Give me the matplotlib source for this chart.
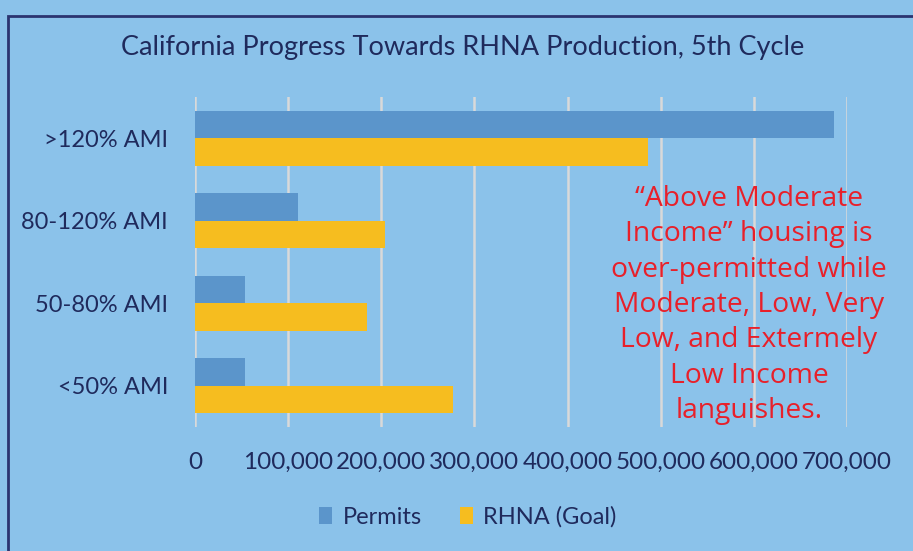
import matplotlib.pyplot as plt
from matplotlib.patches import Rectangle
from matplotlib.ticker import FuncFormatter

categories = ['<50% AMI', '50-80% AMI', '80-120% AMI', '>120% AMI']
permits = [54000, 54000, 111000, 686000]
rhna_goal = [277000, 185000, 204000, 486000]

bg = '#8BC2EA'
navy = '#1F2A5C'

plt.rcParams['font.family'] = ['Lato', 'DejaVu Sans']

fig = plt.figure(figsize=(9.13, 5.51), dpi=100)
fig.patch.set_facecolor(bg)
ax = fig.add_axes([195 / 913, 1 - 427 / 551, (847 - 195) / 913, (427 - 97) / 551])
ax.set_facecolor(bg)

# chart border, cropped at the right and bottom
fig.patches.append(Rectangle((8 / 913, -0.1), 1.2, 1 - 16 / 551 + 0.1, transform=fig.transFigure,
                             fill=False, edgecolor='#2B3470', linewidth=2))

y = list(range(len(categories)))
h = 0.334
ax.barh([i + h / 2 for i in y], permits, height=h, color='#5B95CB', label='Permits', zorder=3)
ax.barh([i - h / 2 for i in y], rhna_goal, height=h, color='#F6BD1F', label='RHNA (Goal)', zorder=3)

ax.set_xlim(0, 700000)
ax.set_ylim(-0.5, 3.5)
ax.set_xticks(range(0, 700001, 100000))
ax.xaxis.set_major_formatter(FuncFormatter(lambda v, p: f'{int(v):,}'))
ax.set_yticks(y)
ax.set_yticklabels(categories)
ax.grid(axis='x', color='#D9D9D9', linewidth=1.8, zorder=0)
for s in ax.spines.values():
    s.set_visible(False)
ax.tick_params(length=0, colors=navy)
ax.tick_params(axis='x', pad=18, labelsize=17.5)
ax.tick_params(axis='y', pad=19.5, labelsize=17)

fig.text(463 / 913, 1 - 47 / 551, 'California Progress Towards RHNA Production, 5th Cycle',
         ha='center', va='center', fontsize=19.5, color=navy)

ax.text(749 / 913, 1 - 305 / 551,
        '\u201cAbove Moderate\nIncome\u201d housing is\nover-permitted while\nModerate, Low, Very\n'
        'Low, and Extermely\nLow Income\nlanguishes.',
        transform=fig.transFigure, ha='center', va='center', fontsize=20.3, color='#E8202A',
        family=['Open Sans', 'DejaVu Sans'], linespacing=1.35, zorder=5)

leg = fig.legend(loc='center', bbox_to_anchor=(468 / 913, 1 - 517 / 551), ncol=2, frameon=False,
                 fontsize=17, handlelength=0.55, handleheight=0.75, columnspacing=1.6,
                 handletextpad=0.45)
for t in leg.get_texts():
    t.set_color(navy)

fig.savefig('out.png', dpi=100, facecolor=bg)
